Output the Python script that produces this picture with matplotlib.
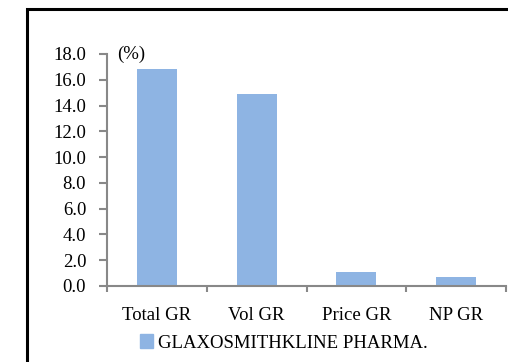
import matplotlib
matplotlib.use("Agg")
import matplotlib.pyplot as plt
from matplotlib.lines import Line2D
from matplotlib.patches import Patch

categories = ["Total GR", "Vol GR", "Price GR", "NP GR"]
values = [16.8, 14.9, 1.1, 0.7]
yticks = [0, 2, 4, 6, 8, 10, 12, 14, 16, 18]
series_name = "GLAXOSMITHKLINE PHARMA."

plt.rcParams['font.family'] = ['Liberation Serif', 'DejaVu Serif']
W, H = 508, 362
FS = 13.5
fig = plt.figure(figsize=(W/100, H/100), dpi=100)
ax = fig.add_axes([107/W, 1-286/H, (506-107)/W, (286-54)/H])

color = "#8EB4E3"
x = list(range(len(categories)))
ax.bar(x, values, width=0.4, color=color)
ax.set_xlim(-0.5, len(categories)-0.5)
ax.set_ylim(0, 18)
ax.set_yticks(yticks)
ax.set_yticklabels([f"{v:.1f}" for v in yticks], fontsize=FS)
ax.set_xticks(x)
ax.set_xticklabels(categories, fontsize=FS)
ax.set_xticks([i-0.5 for i in range(len(categories)+1)], minor=True)
ax.tick_params(axis='x', which='major', length=0, pad=15)
ax.tick_params(axis='x', which='minor', length=4, width=1.5, color="#888888")
ax.tick_params(axis='y', length=6, width=1.5, color="#888888", pad=9)
for s in ['top', 'right']:
    ax.spines[s].set_visible(False)
for s in ['left', 'bottom']:
    ax.spines[s].set_color("#888888")
    ax.spines[s].set_linewidth(1.5)

ax.text(0.025, 1.0, "(%)", transform=ax.transAxes, fontsize=FS, va='center', ha='left')

leg = fig.legend(handles=[Patch(color=color, label=series_name)],
                 loc='center', bbox_to_anchor=(284/W, 1-343/H), frameon=False,
                 fontsize=FS, handlelength=0.7, handleheight=0.7, handletextpad=0.3)

fig.add_artist(Line2D([27/W, 27/W, 1.0], [0, 1-9/H, 1-9/H], transform=fig.transFigure,
                      color='black', linewidth=2.2, solid_joinstyle='miter'))

fig.savefig("out.png", dpi=100)
